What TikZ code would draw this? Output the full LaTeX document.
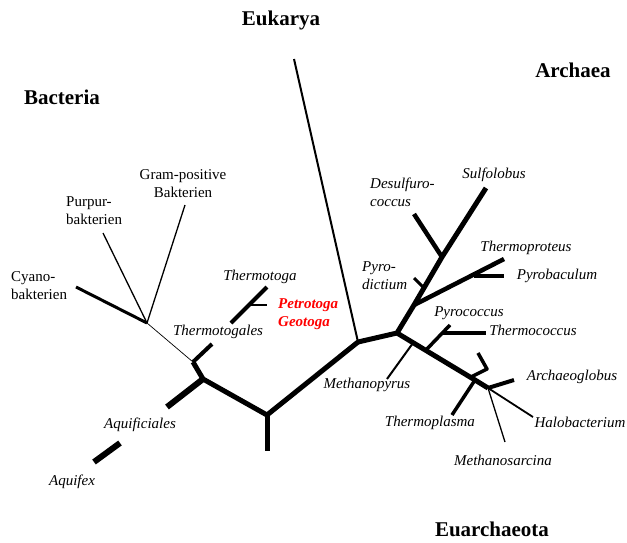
\documentclass[tikz,border=0pt]{standalone}
\usepackage{fontspec}
\setmainfont{Liberation Serif}
\begin{document}
\begin{tikzpicture}[x=1pt,y=-1pt,
  lab/.style={font=\fontsize{15}{18}\selectfont\itshape,inner sep=0pt},
  ulab/.style={font=\fontsize{15}{18}\selectfont,inner sep=0pt},
  dom/.style={font=\fontsize{21}{23}\selectfont\bfseries,inner sep=0pt},
  heavy/.style={line width=6pt},
  thick5/.style={line width=5pt},
  med/.style={line width=3.5pt},
  thin2/.style={line width=2pt},
  thin1/.style={line width=1.3pt},
  hair/.style={line width=0.7pt}]
\useasboundingbox (0,0) rectangle (627,542);
% coordinates
\coordinate (bac) at (147,323);
\coordinate (cyano) at (76,287);
\coordinate (purpur) at (103,233);
\coordinate (gram) at (185,205);
\coordinate (tl) at (193,362);
\coordinate (tstub) at (212,344);
\coordinate (bj) at (203,379);
\coordinate (aqf) at (167,407);
\coordinate (aqx1) at (120,443);
\coordinate (aqx2) at (94,462);
\coordinate (low) at (267,415);
\coordinate (lowtip) at (267,451);
\coordinate (mid) at (358,342);
\coordinate (euk) at (294,59);
\coordinate (A) at (397,333);
\coordinate (B) at (414,305);
\coordinate (C) at (442,257);
\coordinate (sulf) at (486,188);
\coordinate (desulf) at (414,214);
\coordinate (pd1) at (414,278);
\coordinate (pd2) at (424,288);
\coordinate (tprot) at (504,259);
\coordinate (pb1) at (474,276);
\coordinate (pb2) at (504,276);
\coordinate (tt1) at (267,287);
\coordinate (tt2) at (231,323);
\coordinate (pg1) at (250,305);
\coordinate (pg2) at (267,305);
\coordinate (D) at (475,380);
\coordinate (E) at (488,388);
\coordinate (halo) at (533,417);
\coordinate (msar) at (505,442);
\coordinate (arch) at (514,380);
\coordinate (ab1) at (471,377);
\coordinate (ab2) at (487,369);
\coordinate (ab3) at (478,353);
\coordinate (tplas) at (452,415);
\coordinate (mp1) at (413,343);
\coordinate (mp2) at (387,379);
\coordinate (py1) at (426,350);
\coordinate (py2) at (450,325);
\coordinate (tc1) at (442,333);
\coordinate (tc2) at (486,333);
% bacteria
\draw[med,line width=3pt] (cyano) -- (bac);
\draw[thin1] (purpur) -- (bac);
\draw[thin1] (gram) -- (bac);
\draw[hair] (bac) -- (tl);
\draw[med,line width=4pt] (tstub) -- (tl);
\draw[thick5] (tl) -- (bj);
\draw[heavy] (bj) -- (aqf);
\draw[heavy] (aqx1) -- (aqx2);
\draw[med,line width=4pt] (tt1) -- (tt2);
\draw[line width=2.5pt] (pg1) -- (pg2);
\draw[thick5,line join=round] (bj) -- (low) -- (mid);
\draw[thick5] (low) -- (lowtip);
% eukarya
\draw[thin2] (euk) -- (mid);
% archaea
\draw[thick5,line join=round] (mid) -- (A) -- (B) -- (C) -- (sulf);
\draw[line width=4.5pt] (desulf) -- (C);
\draw[line width=3pt] (pd1) -- (pd2);
\draw[line width=4.5pt] (B) -- (tprot);
\draw[line width=4pt] (pb1) -- (pb2);
\draw[thick5,line join=round] (A) -- (D) -- (E);
\draw[line width=1.8pt] (E) -- (halo);
\draw[thin1] (E) -- (msar);
\draw[line width=4pt] (E) -- (arch);
\draw[line width=3.5pt,line join=round] (ab1) -- (ab2) -- (ab3);
\draw[line width=3.5pt] (D) -- (tplas);
\draw[thin2] (mp1) -- (mp2);
\draw[line width=3.5pt] (py1) -- (py2);
\draw[line width=4pt] (tc1) -- (tc2);
% labels
\node[dom] (lEuk) at (281,20) {Eukarya};
\node[dom] (lArc) at (573,70) {Archaea};
\node[dom] (lBac) at (62,97) {Bacteria};
\node[dom] (lEua) at (492,529) {Euarchaeota};
\node[ulab,align=center] (lGram) at (183,184) {Gram-positive\\Bakterien};
\node[ulab,align=left,anchor=west] (lPur) at (66,211) {Purpur-\\bakterien};
\node[ulab,align=left,anchor=west] (lCya) at (11,286) {Cyano-\\bakterien};
\node[lab] (lTt) at (260,277) {Thermotoga};
\node[lab,align=left,anchor=west,text=red,font=\fontsize{15}{18}\selectfont\itshape\bfseries] (lPet) at (278,314) {Petrotoga\\Geotoga};
\node[lab] (lTtl) at (218,332) {Thermotogales};
\node[lab] (lAqf) at (140,425) {Aquificiales};
\node[lab] (lAqx) at (72,482) {Aquifex};
\node[lab] (lMp) at (367,385) {Methanopyrus};
\node[lab] (lTp) at (430,423) {Thermoplasma};
\node[lab] (lMs) at (503,460) {Methanosarcina};
\node[lab] (lHb) at (580,422) {Halobacterium};
\node[lab] (lAg) at (572,377) {Archaeoglobus};
\node[lab] (lTc) at (533,330) {Thermococcus};
\node[lab] (lPc) at (469,313) {Pyrococcus};
\node[lab] (lPb) at (557,276) {Pyrobaculum};
\node[lab] (lTpr) at (526,248) {Thermoproteus};
\node[lab,align=left,anchor=west] (lPd) at (362,276) {Pyro-\\dictium};
\node[lab,align=left,anchor=west] (lDs) at (370,192) {Desulfuro-\\coccus};
\node[lab] (lSf) at (494,175) {Sulfolobus};
\end{tikzpicture}
\end{document}
